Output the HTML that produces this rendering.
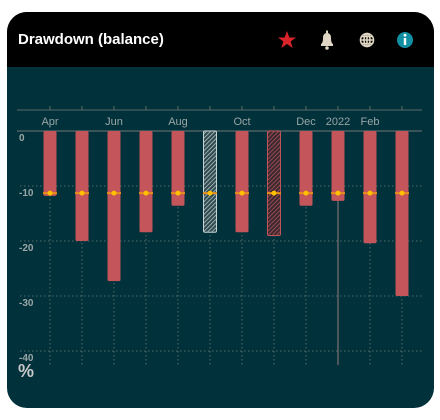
<!DOCTYPE html>
<html><head><meta charset="utf-8"><style>
body{margin:0;background:#fff;width:440px;height:420px;overflow:hidden;font-family:"Liberation Sans",sans-serif}
#card{position:absolute;left:7px;top:12px;width:427px;height:396px;border-radius:20px;background:#01313b;overflow:hidden}
#hdr{position:absolute;left:0;top:0;width:427px;height:55px;background:#000}
#title{position:absolute;left:11px;top:19px;color:#fff;font-weight:bold;font-size:15px}
</style></head><body>
<div id="card">
<div id="hdr">
<div id="title">Drawdown (balance)</div>
<svg width="427" height="55" style="position:absolute;left:0;top:0">
<g><polygon fill="#d8232a" points="280,19 282.4,25.5 289,25.5 283.7,29.5 285.7,36 280,32 274.3,36 276.3,29.5 271,25.5 277.6,25.5"/></g>
<g fill="#e0d6c4"><path d="M314,34 L314,32 Q316,31 316,26 Q316,21 320,21 Q324,21 324,26 Q324,31 326,32 L326,34 Z"/><circle cx="320" cy="36" r="1.8"/><rect x="319" y="18.5" width="2" height="3"/></g>
<g stroke="#e0d6c4" stroke-width="1.6" fill="none"><circle cx="360" cy="28" r="6.5"/><line x1="353.5" y1="28" x2="366.5" y2="28"/><line x1="360" y1="21.5" x2="360" y2="34.5"/><ellipse cx="360" cy="28" rx="3" ry="6.5"/><line x1="354.5" y1="24.5" x2="365.5" y2="24.5"/><line x1="354.5" y1="31.5" x2="365.5" y2="31.5"/></g>
<g><circle cx="398" cy="28" r="8" fill="#1190a3"/><rect x="396.8" y="26" width="2.4" height="7" fill="#fff"/><circle cx="398" cy="23.2" r="1.4" fill="#fff"/></g>
</svg>
</div>
<svg id="plot" width="427" height="396" style="position:absolute;left:0;top:0">
<defs>
<pattern id="hl" width="3" height="3" patternUnits="userSpaceOnUse" patternTransform="rotate(45)"><rect width="3" height="3" fill="#2f4a50"/><line x1="0" y1="0" x2="0" y2="3" stroke="#c8d4d4" stroke-width="1.4"/></pattern>
<pattern id="hd" width="3" height="3" patternUnits="userSpaceOnUse" patternTransform="rotate(45)"><rect width="3" height="3" fill="#3a2a30"/><line x1="0" y1="0" x2="0" y2="3" stroke="#c0545a" stroke-width="1.4"/></pattern>
</defs>
<g id="g"></g>
</svg>
<div style="position:absolute;left:11px;top:349px;color:#c8c8c8;font-weight:bold;font-size:18px">%</div>
</div>
<script>
const categories=["Apr","May","Jun","Jul","Aug","Sep","Oct","Nov","Dec","2022","Feb","Mar"];
const tickLabels=["Apr","","Jun","","Aug","","Oct","","Dec","2022","Feb",""];
const values=[-11.8,-20,-27.3,-18.4,-13.6,-18.4,-18.4,-19,-13.6,-12.7,-20.4,-30];
const markers=[-11.3,-11.3,-11.3,-11.3,-11.3,-11.3,-11.3,-11.3,-11.3,-11.3,-11.3,-11.3];
const styles=["s","s","s","s","s","light","s","dark","s","s","s","s"];
const yTicks=[0,-10,-20,-30,-40];
const NS="http://www.w3.org/2000/svg";
const g=document.getElementById('g');
const x=i=>43+32*i;
const y=v=>119-5.5*v;
function mk(t,a,txt){const e=document.createElementNS(NS,t);for(const k in a)e.setAttribute(k,a[k]);if(txt!==undefined)e.textContent=txt;g.appendChild(e);return e;}
// y grid
yTicks.forEach(v=>{
 if(v!==0){const l=mk('line',{x1:13,x2:415,y1:y(v),y2:y(v),stroke:'#4e6a66','stroke-dasharray':'1.5,2.5','stroke-width':1});
 }
 const t=mk('text',{x:12,y:y(v)+10,fill:'#9aa6a6','font-size':10,'font-weight':'bold'},String(v));
 
});
// top axis
let ax=mk('line',{x1:10,x2:415,y1:98,y2:98,stroke:'#5a6a6a','stroke-width':1});

let zl=mk('line',{x1:10,x2:415,y1:y(0),y2:y(0),stroke:'#5a6a6a','stroke-width':1.2});

categories.forEach((c,i)=>{
 const vl=mk('line',{x1:x(i),x2:x(i),y1:y(0),y2:353,stroke:'#4e6a66','stroke-dasharray':'1.5,2.5'});
 
 const tk=mk('line',{x1:x(i),x2:x(i),y1:94,y2:98,stroke:'#5a6a6a'});
 
 if(tickLabels[i]){const t=mk('text',{x:x(i),y:113,fill:'#9aa6a6','font-size':11,'text-anchor':'middle'},tickLabels[i]);
 }
});
const yl=mk('line',{x1:x(9),x2:x(9),y1:y(0),y2:353,stroke:'#7a7070','stroke-width':1.2});

values.forEach((v,i)=>{
 const st=styles[i];
 const fill=st==='light'?'url(#hl)':st==='dark'?'url(#hd)':'#c4555a';
 const stroke=st==='light'?'#c8d4d4':st==='dark'?'#c0545a':'none';
 const b=mk('rect',{x:x(i)-6.5,y:y(0),width:13,height:y(v)-y(0),fill:fill,stroke:stroke,'stroke-width':1,rx:1.5});
 
 const ml=mk('line',{x1:x(i)-7,x2:x(i)+7,y1:y(markers[i]),y2:y(markers[i]),stroke:'#e8901a','stroke-width':2});
 
 const d=mk('circle',{cx:x(i),cy:y(markers[i]),r:2.5,fill:'#ffc000'});
 
});
</script>
</body></html>
